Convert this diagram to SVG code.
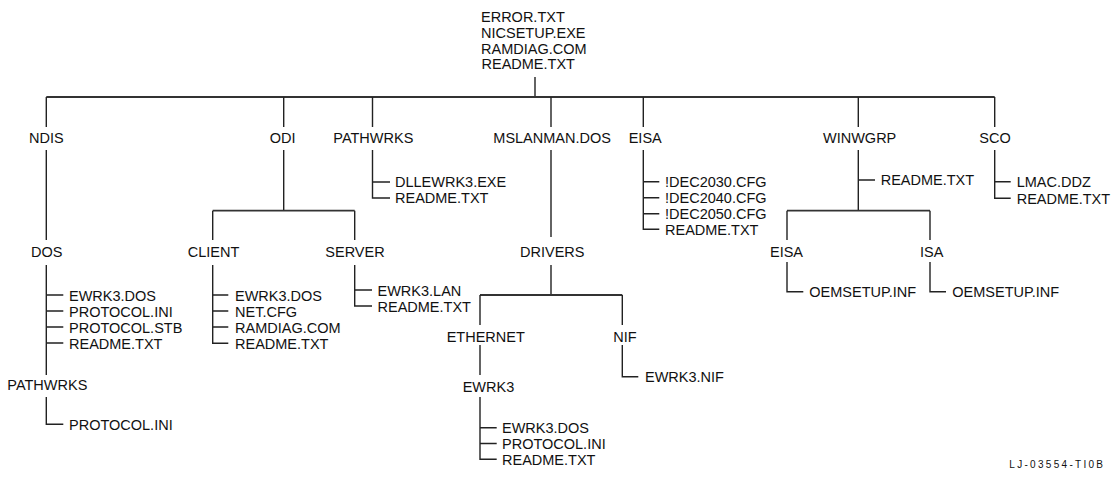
<svg xmlns="http://www.w3.org/2000/svg" width="1112" height="480" viewBox="0 0 1112 480">
<style>
text{font-family:"Liberation Sans",Arial,sans-serif;font-size:14.5px;fill:#111}
.c line,.c path{stroke:#222;stroke-width:1.4;fill:none}
.c .bar{stroke:#333;stroke-width:1.8}
.id{font-size:10px;letter-spacing:2.3px}
</style>
<rect width="1112" height="480" fill="#fff"/>
<g class="c" id="connectors">
<line x1="535" y1="77" x2="535" y2="97"/>
<line class="bar" x1="46.3" y1="97" x2="994.7" y2="97"/>
<line x1="46.3" y1="97" x2="46.3" y2="127"/>
<line x1="283.7" y1="97" x2="283.7" y2="127"/>
<line x1="372.5" y1="97" x2="372.5" y2="127"/>
<line x1="551" y1="97" x2="551" y2="127"/>
<line x1="643.3" y1="97" x2="643.3" y2="127"/>
<line x1="858.3" y1="97" x2="858.3" y2="127"/>
<line x1="994.7" y1="97" x2="994.7" y2="127"/>
<line x1="46.3" y1="150" x2="46.3" y2="240"/>
<path d="M46.3 265V375M46.3 295H63.3M46.3 311H63.3M46.3 327H63.3M46.3 343H63.3"/>
<path d="M46.3 397V424.3H63.3"/>
<line x1="283.7" y1="150" x2="283.7" y2="210.7"/>
<line class="bar" x1="212.7" y1="210.7" x2="354.7" y2="210.7"/>
<line x1="212.7" y1="210.7" x2="212.7" y2="240"/>
<line x1="354.7" y1="210.7" x2="354.7" y2="240"/>
<path d="M212.7 265V343.3H228.3M212.7 295H228.3M212.7 311H228.3M212.7 327H228.3"/>
<path d="M354.7 265V306H372M354.7 290H372"/>
<path d="M372.5 150V198H390M372.5 182H390"/>
<line x1="551" y1="150" x2="551" y2="237"/>
<line x1="551" y1="265" x2="551" y2="295"/>
<line class="bar" x1="480" y1="295" x2="622.3" y2="295"/>
<line x1="480" y1="295" x2="480" y2="325"/>
<line x1="622.3" y1="295" x2="622.3" y2="325"/>
<line x1="480" y1="345" x2="480" y2="375"/>
<path d="M480 397V459.3H496.7M480 427.7H496.7M480 443.5H496.7"/>
<path d="M622.3 345V376.7H638.3"/>
<path d="M643.3 150V229.3H659.3M643.3 181.7H659.3M643.3 197.7H659.3M643.3 213.7H659.3"/>
<path d="M858.3 150V210.7M858.3 180H875"/>
<line class="bar" x1="787" y1="210.7" x2="930" y2="210.7"/>
<line x1="787" y1="210.7" x2="787" y2="240"/>
<line x1="930" y1="210.7" x2="930" y2="240"/>
<path d="M787 262V291.7H803.3"/>
<path d="M930 262V291.7H946"/>
<path d="M994.7 150V198.3H1010.7M994.7 181.7H1010.7"/>
</g>
<g id="root">
<text x="481" y="22.3">ERROR.TXT</text>
<text x="481" y="37.9">NICSETUP.EXE</text>
<text x="481" y="53.5">RAMDIAG.COM</text>
<text x="481.5" y="69.1">README.TXT</text>
</g>
<g id="ndis"><text x="29" y="143">NDIS</text></g>
<g id="ndis-dos"><text x="31" y="256.7">DOS</text>
<text x="69" y="300.5">EWRK3.DOS</text>
<text x="69" y="316.5">PROTOCOL.INI</text>
<text x="69" y="332.5">PROTOCOL.STB</text>
<text x="69" y="348.5">README.TXT</text></g>
<g id="ndis-dos-pathwrks"><text x="7.3" y="390">PATHWRKS</text>
<text x="69" y="430">PROTOCOL.INI</text></g>
<g id="odi"><text x="269.7" y="143">ODI</text></g>
<g id="odi-client"><text x="187.7" y="256.7">CLIENT</text>
<text x="235" y="300.5">EWRK3.DOS</text>
<text x="235" y="316.5">NET.CFG</text>
<text x="235" y="332.5">RAMDIAG.COM</text>
<text x="235" y="348.5">README.TXT</text></g>
<g id="odi-server"><text x="325.3" y="256.7">SERVER</text>
<text x="377.5" y="295.7">EWRK3.LAN</text>
<text x="377.5" y="311.7">README.TXT</text></g>
<g id="pathwrks"><text x="333.3" y="143">PATHWRKS</text>
<text x="395" y="187">DLLEWRK3.EXE</text>
<text x="395" y="203">README.TXT</text></g>
<g id="mslanman"><text x="493.3" y="143">MSLANMAN.DOS</text></g>
<g id="drivers"><text x="520" y="256.7">DRIVERS</text></g>
<g id="ethernet"><text x="446.7" y="341.7">ETHERNET</text></g>
<g id="ewrk3"><text x="462.7" y="391.7">EWRK3</text>
<text x="502" y="433">EWRK3.DOS</text>
<text x="502" y="448.8">PROTOCOL.INI</text>
<text x="502" y="464.6">README.TXT</text></g>
<g id="nif"><text x="613.3" y="341.7">NIF</text>
<text x="645" y="382">EWRK3.NIF</text></g>
<g id="eisa"><text x="628.7" y="143">EISA</text>
<text x="665" y="187">!DEC2030.CFG</text>
<text x="665" y="203">!DEC2040.CFG</text>
<text x="665" y="219">!DEC2050.CFG</text>
<text x="665" y="234.6">README.TXT</text></g>
<g id="winwgrp"><text x="823" y="143">WINWGRP</text>
<text x="880.7" y="185.3">README.TXT</text></g>
<g id="winwgrp-eisa"><text x="770" y="256.7">EISA</text>
<text x="809.3" y="297">OEMSETUP.INF</text></g>
<g id="winwgrp-isa"><text x="920" y="256.7">ISA</text>
<text x="952.3" y="297">OEMSETUP.INF</text></g>
<g id="sco"><text x="979.3" y="143">SCO</text>
<text x="1016.7" y="187">LMAC.DDZ</text>
<text x="1016.7" y="203.6">README.TXT</text></g>
<text class="id" x="1009.3" y="468">LJ-03554-TI0B</text>
</svg>
